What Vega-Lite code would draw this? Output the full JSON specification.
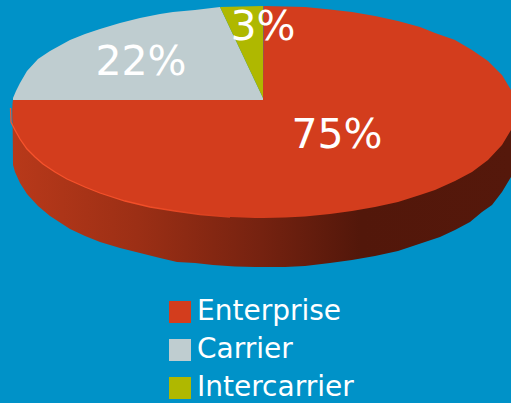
{"$schema":"https://vega.github.io/schema/vega-lite/v6.json","width":511,"height":403,"padding":0,"autosize":{"type":"none"},"background":"#0092c8","view":{"stroke":null},
"datasets":{
"side":[{"x":12.5,"y":110,"y2":110},{"x":13,"y":165,"y2":105},{"x":15,"y":172,"y2":105},{"x":20,"y":183,"y2":105},{"x":27,"y":194,"y2":105},{"x":38,"y":206,"y2":105},{"x":50,"y":216,"y2":105},{"x":70,"y":229,"y2":105},{"x":85,"y":236,"y2":105},{"x":100,"y":242,"y2":105},{"x":120,"y":248,"y2":105},{"x":140,"y":253,"y2":105},{"x":160,"y":258,"y2":105},{"x":177,"y":262,"y2":105},{"x":195,"y":263,"y2":105},{"x":213,"y":265,"y2":105},{"x":235,"y":266.5,"y2":105},{"x":255,"y":267,"y2":105},{"x":285,"y":267,"y2":105},{"x":305,"y":266,"y2":105},{"x":330,"y":263,"y2":105},{"x":352,"y":260,"y2":105},{"x":375,"y":256,"y2":105},{"x":398,"y":251,"y2":105},{"x":422,"y":243,"y2":105},{"x":440,"y":237,"y2":105},{"x":455,"y":230,"y2":105},{"x":470,"y":222,"y2":105},{"x":482,"y":212,"y2":105},{"x":492,"y":205,"y2":105},{"x":502,"y":192,"y2":105},{"x":511,"y":177,"y2":105}],
"slices":[
{"slice":"Enterprise","x":12.5,"y":104,"y2":118},{"slice":"Enterprise","x":13,"y":100,"y2":123},{"slice":"Enterprise","x":15,"y":100,"y2":130},{"slice":"Enterprise","x":20,"y":100,"y2":139},{"slice":"Enterprise","x":27,"y":100,"y2":149},{"slice":"Enterprise","x":35,"y":100,"y2":157},{"slice":"Enterprise","x":43,"y":100,"y2":164},{"slice":"Enterprise","x":55,"y":100,"y2":172},{"slice":"Enterprise","x":67,"y":100,"y2":179},{"slice":"Enterprise","x":85,"y":100,"y2":187},{"slice":"Enterprise","x":100,"y":100,"y2":193},{"slice":"Enterprise","x":125,"y":100,"y2":201},{"slice":"Enterprise","x":150,"y":100,"y2":207},{"slice":"Enterprise","x":175,"y":100,"y2":211},{"slice":"Enterprise","x":200,"y":100,"y2":214.5},{"slice":"Enterprise","x":230,"y":100,"y2":217},{"slice":"Enterprise","x":255,"y":100,"y2":218},{"slice":"Enterprise","x":263,"y":100,"y2":218},{"slice":"Enterprise","x":263.5,"y":6,"y2":218},{"slice":"Enterprise","x":285,"y":6.5,"y2":217.5},{"slice":"Enterprise","x":305,"y":7,"y2":216.5},{"slice":"Enterprise","x":330,"y":9.5,"y2":214},{"slice":"Enterprise","x":352,"y":12,"y2":211},{"slice":"Enterprise","x":375,"y":16,"y2":207},{"slice":"Enterprise","x":398,"y":21,"y2":202},{"slice":"Enterprise","x":420,"y":27,"y2":195},{"slice":"Enterprise","x":435,"y":33,"y2":190},{"slice":"Enterprise","x":455,"y":40,"y2":181},{"slice":"Enterprise","x":472,"y":50,"y2":172},{"slice":"Enterprise","x":488,"y":61,"y2":160},{"slice":"Enterprise","x":502,"y":75,"y2":145},{"slice":"Enterprise","x":511,"y":90,"y2":130},
{"slice":"Carrier","x":13,"y":98,"y2":100},{"slice":"Carrier","x":16,"y":91,"y2":100},{"slice":"Carrier","x":20,"y":83,"y2":100},{"slice":"Carrier","x":27,"y":71,"y2":100},{"slice":"Carrier","x":38,"y":59,"y2":100},{"slice":"Carrier","x":50,"y":51,"y2":100},{"slice":"Carrier","x":70,"y":40,"y2":100},{"slice":"Carrier","x":85,"y":34,"y2":100},{"slice":"Carrier","x":100,"y":29,"y2":100},{"slice":"Carrier","x":120,"y":23,"y2":100},{"slice":"Carrier","x":140,"y":18,"y2":100},{"slice":"Carrier","x":160,"y":14,"y2":100},{"slice":"Carrier","x":173,"y":12,"y2":100},{"slice":"Carrier","x":195,"y":10,"y2":100},{"slice":"Carrier","x":220,"y":7,"y2":100},{"slice":"Carrier","x":263,"y":98,"y2":100},
{"slice":"Intercarrier","x":220,"y":7,"y2":7},{"slice":"Intercarrier","x":263,"y":6,"y2":98}],
"rim":[{"x":10.5,"y":108},{"x":11,"y":122},{"x":15,"y":130},{"x":20,"y":139},{"x":27,"y":149},{"x":35,"y":157},{"x":43,"y":164},{"x":55,"y":172},{"x":67,"y":179},{"x":85,"y":187},{"x":100,"y":193},{"x":125,"y":201},{"x":150,"y":207},{"x":175,"y":211},{"x":200,"y":214.5},{"x":230,"y":217}],
"labels":[{"x":141,"y":75,"label":"22%"},{"x":337,"y":148,"label":"75%"},{"x":263,"y":40,"label":"3%"}]},
"layer":[
{"data":{"name":"side"},"mark":{"type":"area","clip":true,"color":{"gradient":"linear","x1":0,"x2":1,"y1":0,"y2":0,"stops":[{"offset":0,"color":"#b8391a"},{"offset":0.25,"color":"#9c2f15"},{"offset":0.5,"color":"#752210"},{"offset":0.7,"color":"#52170a"},{"offset":1,"color":"#55180b"}]}},
"encoding":{"x":{"field":"x","type":"quantitative","scale":{"domain":[0,511]},"axis":null},"y":{"field":"y","type":"quantitative","scale":{"domain":[403,0]},"axis":null,"stack":null},"y2":{"field":"y2"}}},
{"data":{"name":"slices"},"mark":{"type":"area","clip":true},
"encoding":{"x":{"field":"x","type":"quantitative","scale":{"domain":[0,511]},"axis":null},"y":{"field":"y","type":"quantitative","scale":{"domain":[403,0]},"axis":null,"stack":null},"y2":{"field":"y2"},
"color":{"field":"slice","type":"nominal","scale":{"domain":["Enterprise","Carrier","Intercarrier"],"range":["#d33d1d","#bfcdd0","#afb800"]},
"legend":{"title":null,"orient":"none","legendX":166,"legendY":298,"symbolType":"square","symbolSize":484,"symbolStrokeWidth":0,"labelFont":"DejaVu Sans","labelFontSize":28,"labelColor":"#ffffff","labelOffset":3,"rowPadding":10,"labelLimit":300}}}},
{"data":{"name":"rim"},"mark":{"type":"line","clip":true,"strokeWidth":1.3,"color":{"gradient":"linear","x1":0,"x2":1,"y1":0,"y2":0,"stops":[{"offset":0,"color":"#f8532c"},{"offset":0.6,"color":"#f24e28"},{"offset":1,"color":"#d33d1d"}]}},
"encoding":{"x":{"field":"x","type":"quantitative","scale":{"domain":[0,511]},"axis":null},"y":{"field":"y","type":"quantitative","scale":{"domain":[403,0]},"axis":null}}},
{"data":{"name":"labels"},"mark":{"type":"text","font":"DejaVu Sans","fontSize":41,"color":"#ffffff","baseline":"alphabetic","align":"center"},
"encoding":{"x":{"field":"x","type":"quantitative","scale":{"domain":[0,511]},"axis":null},"y":{"field":"y","type":"quantitative","scale":{"domain":[403,0]},"axis":null},"text":{"field":"label"}}}
]}
